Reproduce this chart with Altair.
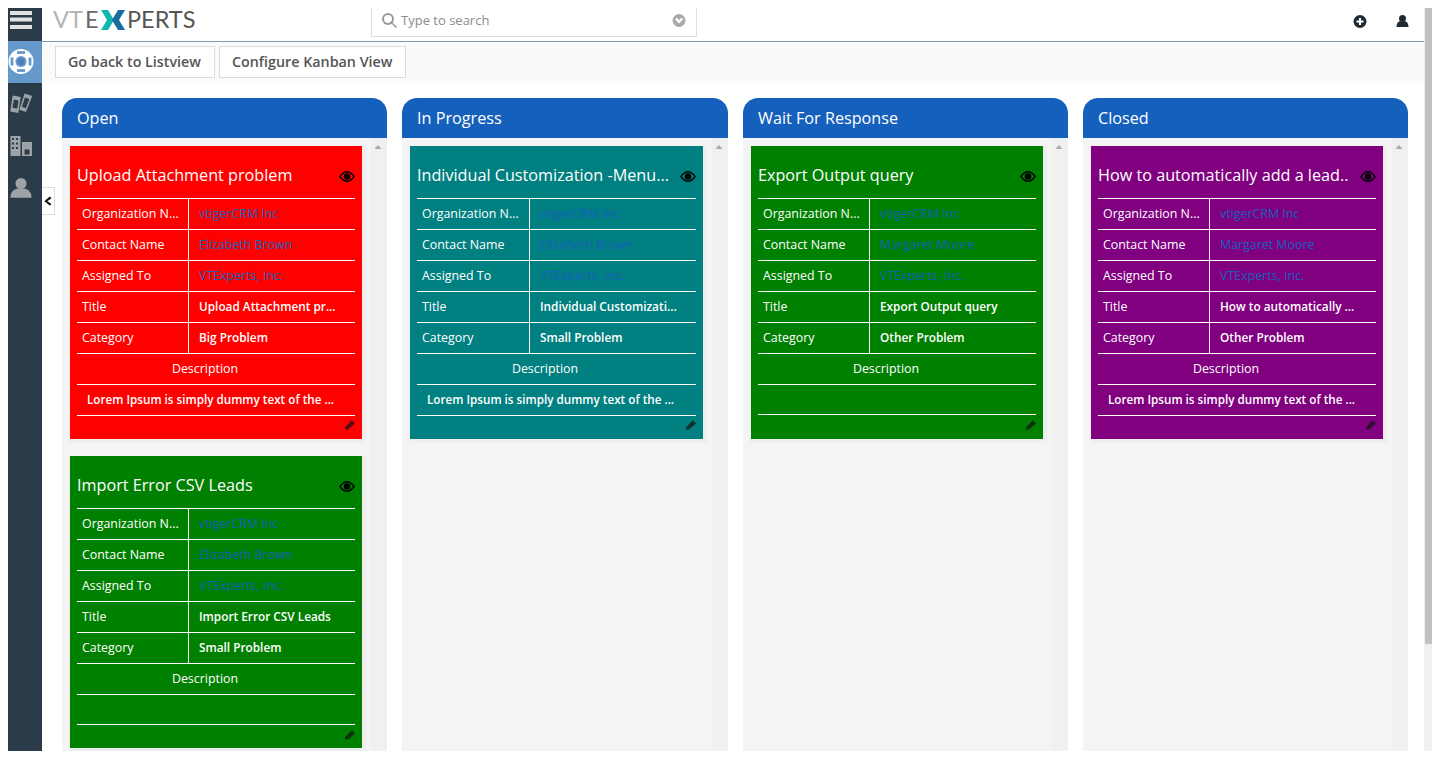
import altair as alt
import pandas as pd

# ---------- content ----------
COLUMNS = ["Open", "In Progress", "Wait For Response", "Closed"]
ROW_LABELS = ["Organization N...", "Contact Name", "Assigned To", "Title", "Category"]
CARD_TITLES = ["Upload Attachment problem", "Import Error CSV Leads", "Individual Customization -Menu...",
               "Export Output query", "How to automatically add a lead.."]
CARD_ORGS = ["vtigerCRM Inc", "vtigerCRM Inc", "vtigerCRM Inc", "vtigerCRM Inc", "vtigerCRM Inc"]
CARD_CONTACTS = ["Elizabeth Brown", "Elizabeth Brown", "Elizabeth Brown", "Margaret Moore", "Margaret Moore"]
CARD_OWNERS = ["VTExperts, Inc."] * 5
CARD_SHORT = ["Upload Attachment pr...", "Import Error CSV Leads", "Individual Customizati...",
              "Export Output query", "How to automatically ..."]
CARD_CATEGORY = ["Big Problem", "Small Problem", "Small Problem", "Other Problem", "Other Problem"]
LOREM = "Lorem Ipsum is simply dummy text of the ..."
CARD_DESC = [LOREM, "", LOREM, "", LOREM]
CARD_COLORS = ["#ff0000", "#008000", "#008080", "#008000", "#800080"]
CARD_LEFT = [70, 70, 410, 751, 1091]
CARD_TOP = [146, 456, 146, 146, 146]
CARD_WIDTH = [292, 292, 293, 292, 292]
CARD_SHIFT = [0, 0, 1, 0, 0]
COLUMN_LEFT = [62, 402, 743, 1083]
COLUMN_RIGHT = [387, 728, 1068, 1408]
BUTTONS = ["Go back to Listview", "Configure Kanban View"]
BUTTON_LEFT = [55, 219]
BUTTON_RIGHT = [215, 406]
BUTTON_TEXT_X = [68, 232]
LOGO_PARTS = ["VT", "E", "PERTS"]
LOGO_X = [53, 85, 127]
LOGO_COLORS = ["#b4b4b4", "#6a6a6a", "#555555"]

LINK = "#1560bd"
rects, syms, texts = [], [], []


def R(x, x2, y, y2, c):
    rects.append(dict(x=x, x2=x2, y=y, y2=y2, c=c))


def S(x, y, d, shape, c):
    syms.append(dict(x=x, y=y, s=d * d, shape=shape, c=c))


def T(x, y, t, c, size, group="n"):
    texts.append(dict(x=x, y=y, t=t, c=c, size=size, g=group))


def box(x, x2, y, y2, border, fill):
    R(x, x2, y, y2, border)
    R(x + 1, x2 - 1, y + 1, y2 - 1, fill)


# ---------- page furniture ----------
R(0, 1440, 0, 759, "#ffffff")
R(42, 1424, 42, 83, "#fafafa")
R(42, 1424, 41, 42, "#7d9bbd")
R(0, 42, 0, 759, "#2c3b49")
R(0, 42, 41, 83, "#6599cb")
R(1424, 1440, 0, 759, "#f0f0f0")
R(1425, 1438, 0, 644, "#c1c1c1")
for y in (11, 17.5, 25):
    R(10, 32, y, y + 4, "#dfe1e3")
box(42, 55, 187, 215, "#dddddd", "#ffffff")
R(42, 43, 188, 214, "#ffffff")
box(371, 697, 3, 37, "#dddddd", "#ffffff")
for i, label in enumerate(BUTTONS):
    box(BUTTON_LEFT[i], BUTTON_RIGHT[i], 46, 78, "#dddddd", "#ffffff")
    T(BUTTON_TEXT_X[i], 63, label, "#555555", 14.3, "b")
T(401, 20.5, "Type to search", "#8c8c8c", 13)

# logo
for part, lx, lc in zip(LOGO_PARTS, LOGO_X, LOGO_COLORS):
    T(lx, 20.5, part, lc, 23.5, "logo")
S(111, 20, 20, "M-1 -1L-0.3 -1L0.3 0L-0.3 1L-1 1L-0.4 0Z", "#12b5b0")
S(115, 20, 20, "M1 -1L0.3 -1L-0.3 0L0.3 1L1 1L0.4 0Z", "#1a6c9c")

# columns
for i, name in enumerate(COLUMNS):
    l, r = COLUMN_LEFT[i], COLUMN_RIGHT[i]
    R(l, r, 138, 759, "#f4f4f4")
    R(r - 16, r, 138, 759, "#f0f0f0")
    T(l + 15, 119, name, "#ffffff", 16.2)
    S(r - 9, 147, 7, "M0 -0.6L1 0.6L-1 0.6Z", "#aaaaaa")

# cards
for k in range(5):
    x0, y0, col = CARD_LEFT[k], CARD_TOP[k], CARD_COLORS[k]
    w, dx = CARD_WIDTH[k], CARD_SHIFT[k]
    h = 293 if y0 == 146 else 292
    R(x0 - 1, x0 + w + 4, y0, y0 + h + 4, "#eeeeee")
    R(x0, x0 + w, y0, y0 + h, col)
    T(x0 + 7, y0 + 30, CARD_TITLES[k], "#ffffff", 16.2)
    vals = [CARD_ORGS[k], CARD_CONTACTS[k], CARD_OWNERS[k], CARD_SHORT[k], CARD_CATEGORY[k]]
    for j in range(8):
        yl = y0 + 52 + 31 * j
        if j == 7 and not CARD_DESC[k]:
            yl -= 1
        R(x0 + 7, x0 + 285 + dx, yl, yl + 1, "#ffffff")
    R(x0 + 118 + dx, x0 + 119 + dx, y0 + 52, y0 + 207, "#ffffff")
    for j in range(5):
        yc = y0 + 67.5 + 31 * j
        T(x0 + 12, yc, ROW_LABELS[j], "#ffffff", 12.4)
        if j < 3:
            T(x0 + 129 + dx, yc, vals[j], LINK, 12.4)
        else:
            T(x0 + 129 + dx, yc, vals[j], "#ffffff", 11.8, "b")
    T(x0 + 135, y0 + 222.5, "Description", "#ffffff", 12.4, "c")
    if CARD_DESC[k]:
        T(x0 + 17, y0 + 253.5, CARD_DESC[k], "#ffffff", 11.7, "b")
    ex, ey = x0 + 277 + dx, y0 + 30.5
    S(ex, ey, 16, "M-1 0Q-0.5 -0.7 0 -0.7Q0.5 -0.7 1 0Q0.5 0.7 0 0.7Q-0.5 0.7 -1 0Z", "#000000")
    S(ex, ey, 12.5, "M-1 0Q-0.5 -0.65 0 -0.65Q0.5 -0.65 1 0Q0.5 0.65 0 0.65Q-0.5 0.65 -1 0Z", col)
    S(ex, ey, 6.5, "circle", "#000000")
    S(x0 + 280 + dx, y0 + 278.5, 10, "M-1 0.55L0.35 -0.85L1 -0.2L-0.4 1L-1 1Z", "rgba(20,20,20,0.72)")

# ---------- icons ----------
# lifebuoy
S(21, 61.5, 25, "circle", "#ffffff")
for ix, iy, shp in [(21, 52.5, "M-1 -0.35L1 -0.35L1 0.35L-1 0.35Z"), (21, 70.5, "M-1 -0.35L1 -0.35L1 0.35L-1 0.35Z"),
                    (12, 61.5, "M-0.35 -1L0.35 -1L0.35 1L-0.35 1Z"), (30, 61.5, "M-0.35 -1L0.35 -1L0.35 1L-0.35 1Z")]:
    S(ix, iy, 8, shp, "#6599cb")
S(21, 61.5, 11, "circle", "#6599cb")
S(21, 61.5, 7, "circle", "#4e7fb2")
# tickets
S(15.5, 104, 19, "M-0.3 -0.9L0.55 -0.75L0.3 0.95L-0.55 0.8Z", "#9ea3a8")
S(15.5, 104, 11, "M-0.3 -0.8L0.55 -0.65L0.3 0.85L-0.55 0.7Z", "#2c3b49")
S(25.5, 103, 19, "M-0.1 -1L0.7 -0.75L0.05 0.95L-0.65 0.7Z", "#9ea3a8")
S(25.5, 103, 11, "M-0.1 -1L0.7 -0.75L0.05 0.95L-0.65 0.7Z", "#2c3b49")
# building
R(10.5, 20.5, 136, 156, "#9ea3a8")
R(22, 32, 142, 156, "#9ea3a8")
for wy in (139, 143.5, 148):
    for wx in (13, 17):
        S(wx, wy, 2, "square", "#2c3b49")
S(27, 152, 5, "M-1 -1L1 -1L1 1L-1 1Z", "#2c3b49")
# person (sidebar)
S(21, 183.5, 11, "circle", "#9ea3a8")
S(21, 193, 21, "M-1 0.45Q-1 -0.45 0 -0.45Q1 -0.45 1 0.45Z", "#9ea3a8")
# chevron toggle
S(47.5, 201, 9, "M0.5 -1L0.9 -0.6L-0.05 0.05L0.9 0.65L0.5 1L-0.7 0.05Z", "#111111")
# search
S(388, 19, 12, "circle", "#999999")
S(388, 19, 8, "circle", "#ffffff")
S(393.5, 24.5, 7, "M-0.7 -1L-1 -0.7L0.7 1L1 0.7Z", "#999999")
S(679, 20.5, 13, "circle", "#aaaaaa")
S(679, 21, 8, "M-1 -0.45L-0.55 -0.8L0 -0.2L0.55 -0.8L1 -0.45L0 0.6Z", "#ffffff")
# top-right
S(1360, 21.5, 13, "circle", "#222a31")
S(1360, 21.5, 7, "M-0.3 -1L0.3 -1L0.3 -0.3L1 -0.3L1 0.3L0.3 0.3L0.3 1L-0.3 1L-0.3 0.3L-1 0.3L-1 -0.3L-0.3 -0.3Z", "#ffffff")
S(1402.5, 18.5, 7, "circle", "#222a31")
S(1402.5, 24, 12, "M-1 0.5Q-1 -0.5 -0.2 -0.5L0.2 -0.5Q1 -0.5 1 0.5Z", "#222a31")

# ---------- chart ----------
X = alt.X("x:Q", axis=None, scale=alt.Scale(domain=[8, 1432]))
Y = alt.Y("y:Q", axis=None, scale=alt.Scale(domain=[751, 8]))
COLOR = alt.Color("c:N", scale=None, legend=None)

rect_df = pd.DataFrame(rects)
rect_df["o"] = range(len(rect_df))
headers = pd.DataFrame(dict(x=COLUMN_LEFT, x2=COLUMN_RIGHT, y=[98] * 4, y2=[138] * 4, c=["#1560bd"] * 4))

base_rect = alt.Chart(rect_df).mark_rect().encode(X, x2="x2:Q", y=Y, y2="y2:Q", color=COLOR, order="o:Q")
head_rect = alt.Chart(headers).mark_rect(cornerRadiusTopLeft=15, cornerRadiusTopRight=15).encode(
    X, x2="x2:Q", y=Y, y2="y2:Q", color=COLOR)

sym_df = pd.DataFrame(syms)
sym_df["o"] = range(len(sym_df))
sym_layer = alt.Chart(sym_df).mark_point(filled=True, opacity=1, strokeWidth=0).encode(
    X, Y, color=COLOR, order="o:Q",
    shape=alt.Shape("shape:N", scale=None, legend=None),
    size=alt.Size("s:Q", scale=None, legend=None))


def text_layer(group, **kw):
    df = pd.DataFrame([t for t in texts if t["g"] == group])
    return alt.Chart(df).mark_text(baseline="middle", **kw).encode(
        X, Y, text="t:N", color=COLOR, size=alt.Size("size:Q", scale=None, legend=None))


chart = alt.layer(
    base_rect, head_rect, sym_layer,
    text_layer("n", align="left", font="Open Sans"),
    text_layer("c", align="center", font="Open Sans"),
    text_layer("b", align="left", font="Open Sans", fontWeight=600),
    text_layer("logo", align="left", font="Lato"),
).properties(
    width=1424, height=743, padding=0, autosize=alt.AutoSizeParams(type="none"), background="#ffffff"
).configure_view(strokeWidth=0)

chart.save("out.html", embed_options={"renderer": "svg", "actions": False})
